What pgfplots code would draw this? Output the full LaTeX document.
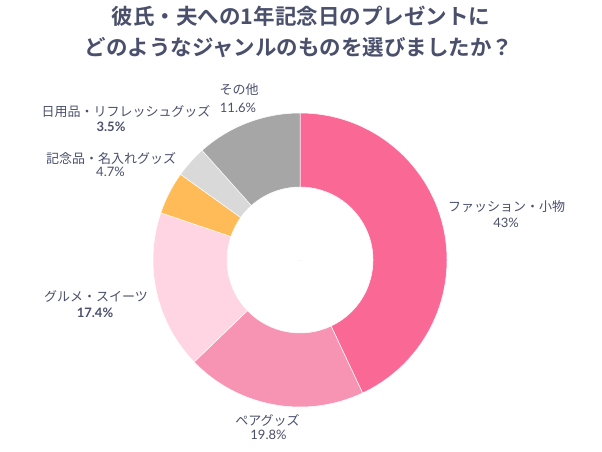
\documentclass[border=0pt]{standalone}
\usepackage{fontspec}
\usepackage{pgfplots}
\usepackage{pgfplotstable}
\pgfplotsset{compat=1.18}
\newfontfamily\cjk{Noto Sans CJK JP}[BoldFont={Noto Sans CJK JP Bold}]
\newfontfamily\num{Lato}
\definecolor{txt}{HTML}{4A4F6C}
\definecolor{c0}{HTML}{FA6996}
\definecolor{c1}{HTML}{F794B3}
\definecolor{c2}{HTML}{FFD4E3}
\definecolor{c3}{HTML}{FFBB58}
\definecolor{c4}{HTML}{D9D9D9}
\definecolor{c5}{HTML}{A6A6A6}

% share (%), cumulative start (%), colour index
\pgfplotstableread{
pct start idx
43.0 0.0 0
19.8 43.0 1
17.4 62.8 2
4.7 80.2 3
3.5 84.9 4
11.6 88.4 5
}\slices

\begin{document}
\begin{tikzpicture}
 \begin{axis}[
  x=1pt, y=1pt,
  xmin=-300, xmax=302,
  ymin=-191, ymax=260,
  hide axis,
  clip=false]
  \path (rel axis cs:0,0) rectangle (rel axis cs:1,1);
  \addplot[
   scatter, only marks, mark=*, mark size=0pt,
   visualization depends on={\thisrow{idx}\as\idx},
   visualization depends on={\thisrow{start}\as\st},
   visualization depends on={\thisrow{pct}\as\pc},
   scatter/@pre marker code/.code={
    \pgfmathtruncatemacro\ci{round(\idx)}
    \pgfmathsetmacro\aa{90-3.6*\st}
    \pgfmathsetmacro\ab{90-3.6*(\st+\pc)}
    \fill[fill=c\ci, draw=white, line width=0.5pt]
     (\aa:147pt) arc[start angle=\aa, end angle=\ab, radius=147pt]
     -- (\ab:73pt) arc[start angle=\ab, end angle=\aa, radius=73pt] -- cycle;
   },
   scatter/@post marker code/.code={}]
   table[x expr=0, y expr=0] {\slices};

  \begin{scope}[txt, font=\cjk\fontsize{13}{15}\selectfont]
   \node at (axis cs:206.7,53.3) {ファッション・小物};
   \node[font=\num\fontsize{13}{15}\selectfont] at (axis cs:206,37.3) {43\%};
   \node at (axis cs:-32.5,-160) {ペアグッズ};
   \node[font=\num\fontsize{13}{15}\selectfont] at (axis cs:-31.5,-175) {19.8\%};
   \node at (axis cs:-204,-36.7) {グルメ・スイーツ};
   \node[font=\num\bfseries\fontsize{13}{15}\selectfont] at (axis cs:-205,-53) {17.4\%};
   \node at (axis cs:-189,101) {記念品・名入れグッズ};
   \node[font=\num\fontsize{13}{15}\selectfont] at (axis cs:-189.5,88.3) {4.7\%};
   \node at (axis cs:-174,148.3) {日用品・リフレッシュグッズ};
   \node[font=\num\bfseries\fontsize{13}{15}\selectfont] at (axis cs:-189,133) {3.5\%};
   \node at (axis cs:-61,170) {その他};
   \node[font=\num\fontsize{13}{15}\selectfont] at (axis cs:-62,152.3) {11.6\%};
  \end{scope}
  \node[txt, font=\cjk\bfseries\fontsize{21.5}{24}\selectfont] at (axis cs:1,244) {彼氏・夫への1年記念日のプレゼントに};
  \node[txt, font=\cjk\bfseries\fontsize{21.5}{24}\selectfont] at (axis cs:-1,212) {どのようなジャンルのものを選びましたか？};
 \end{axis}
\end{tikzpicture}
\end{document}
